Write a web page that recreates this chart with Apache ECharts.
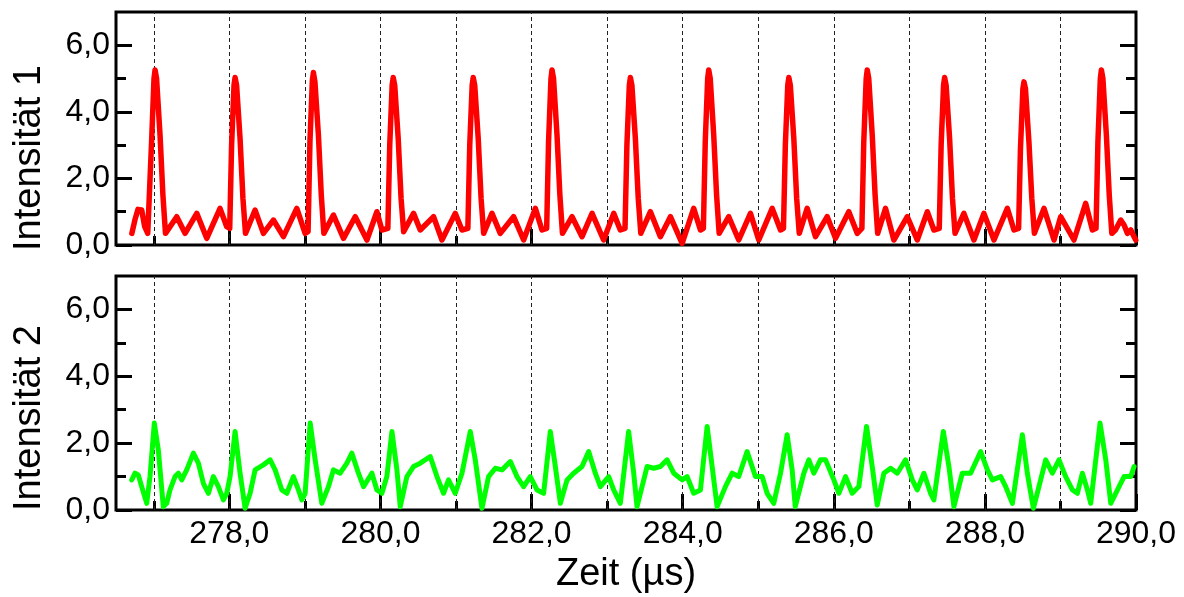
<!DOCTYPE html>
<html><head><meta charset="utf-8">
<script src="https://cdn.jsdelivr.net/npm/echarts@6/dist/echarts.min.js"></script>
<style>html,body{margin:0;padding:0;background:#fff}#c{width:1184px;height:597px}</style>
</head><body><div id="c"></div>
<script>
// ---- data (time in µs, intensity in a.u.) ----
const redTime = [
276.71,276.75,276.79,276.84,276.88,276.92,
276.946,276.971,277.003,277.017,277.037,277.083,277.121,277.155,
277.304,277.414,277.569,277.701,277.877,277.966,
278.005,278.030,278.062,278.076,278.096,278.142,278.180,278.214,
278.341,278.451,278.583,278.716,278.893,279.003,
279.042,279.067,279.099,279.113,279.133,279.179,279.217,279.251,
279.378,279.511,279.666,279.821,279.953,280.019,
280.098,280.123,280.155,280.169,280.189,280.235,280.273,280.307,
280.438,280.527,280.703,280.814,280.990,281.079,
281.157,281.182,281.214,281.228,281.248,281.294,281.332,281.366,
281.476,281.586,281.762,281.895,282.050,282.138,
282.200,282.225,282.257,282.271,282.291,282.337,282.375,282.409,
282.536,282.668,282.801,282.954,283.087,283.175,
283.237,283.262,283.294,283.308,283.328,283.374,283.412,283.446,
283.573,283.705,283.838,283.993,284.146,284.235,
284.274,284.299,284.331,284.345,284.365,284.411,284.449,284.483,
284.610,284.742,284.897,285.007,285.185,285.295,
285.334,285.359,285.391,285.405,285.425,285.471,285.509,285.543,
285.648,285.758,285.913,286.023,286.199,286.310,
286.372,286.397,286.429,286.443,286.463,286.509,286.547,286.581,
286.685,286.795,286.973,287.105,287.238,287.325,
287.396,287.421,287.453,287.467,287.487,287.533,287.571,287.605,
287.722,287.855,287.987,288.120,288.297,288.385,
288.446,288.471,288.503,288.517,288.537,288.583,288.621,288.655,
288.782,288.915,289.003,289.179,289.334,289.423,
289.471,289.496,289.528,289.542,289.562,289.608,289.646,289.680,
289.728,289.798,289.842,289.887,289.931,289.975,289.997
];
const redIntensity = [
0.35,0.75,1.07,1.05,0.55,0.35,
0.4,3.1,5.0,5.26,5.0,3.3,1.5,0.35,
0.85,0.35,0.95,0.2,1.1,0.55,
0.5,3.0,4.8,5.03,4.8,3.2,1.4,0.35,
1.05,0.35,0.75,0.25,1.1,0.35,
0.4,3.1,4.95,5.18,4.9,3.3,1.5,0.35,
0.9,0.2,0.85,0.15,1.0,0.45,
0.5,3.0,4.8,5.03,4.8,3.2,1.4,0.4,
0.95,0.45,0.85,0.15,0.95,0.45,
0.5,3.0,4.8,5.03,4.8,3.2,1.4,0.35,
0.95,0.35,0.85,0.15,1.1,0.45,
0.5,3.1,5.0,5.26,5.0,3.3,1.5,0.35,
0.85,0.25,0.95,0.15,0.95,0.45,
0.5,3.0,4.8,5.03,4.8,3.2,1.4,0.35,
1.0,0.25,0.85,0.05,1.1,0.45,
0.5,3.1,5.0,5.26,5.0,3.3,1.5,0.35,
0.85,0.15,0.95,0.15,1.1,0.45,
0.5,3.0,4.8,5.03,4.8,3.2,1.4,0.35,
1.1,0.25,0.85,0.2,1.0,0.35,
0.5,3.1,5.0,5.26,5.0,3.3,1.5,0.35,
1.1,0.15,0.85,0.15,1.0,0.45,
0.5,3.0,4.8,5.03,4.8,3.2,1.4,0.35,
0.95,0.15,0.95,0.15,1.1,0.45,
0.5,2.9,4.7,4.9,4.7,3.1,1.4,0.35,
1.1,0.15,0.85,0.15,1.25,0.45,
0.5,3.1,5.0,5.26,5.0,3.3,1.5,0.35,
0.45,0.75,0.6,0.35,0.45,0.25,0.15
];
const greenTime = [
276.708,276.752,276.795,276.840,276.907,276.950,277.007,277.060,277.126,277.171,
277.215,277.281,277.325,277.370,277.436,277.524,277.590,277.656,277.723,277.789,
277.855,277.921,277.966,278.010,278.076,278.142,278.209,278.275,278.341,278.451,
278.540,278.606,278.695,278.761,278.848,278.915,278.960,279.003,279.070,279.136,
279.224,279.312,279.378,279.467,279.556,279.622,279.709,279.776,279.887,279.953,
280.019,280.085,280.152,280.218,280.262,280.350,280.438,280.527,280.659,280.748,
280.835,280.901,280.990,281.079,281.189,281.255,281.344,281.431,281.520,281.609,
281.719,281.807,281.895,281.983,282.072,282.160,282.248,282.315,282.381,282.470,
282.557,282.668,282.756,282.844,282.911,283.021,283.087,283.175,283.285,283.352,
283.396,283.529,283.617,283.705,283.794,283.882,283.993,284.059,284.146,284.235,
284.324,284.390,284.456,284.566,284.655,284.742,284.853,284.963,285.052,285.118,
285.206,285.295,285.383,285.449,285.490,285.604,285.670,285.736,285.824,285.891,
286.001,286.067,286.156,286.244,286.332,286.434,286.509,286.575,286.663,286.752,
286.840,286.950,287.039,287.105,287.193,287.281,287.325,287.450,287.524,287.590,
287.701,287.811,287.944,288.033,288.099,288.209,288.275,288.364,288.496,288.562,
288.642,288.738,288.805,288.893,288.981,289.069,289.158,289.224,289.290,289.357,
289.401,289.524,289.600,289.666,289.776,289.842,289.931,289.975
];
const greenIntensity = [
0.9,1.1,1.05,0.7,0.2,1.0,2.6,1.8,0.1,0.2,
0.6,1.0,1.1,0.9,1.2,1.7,1.4,0.8,0.5,1.0,
0.7,0.3,0.5,1.0,2.35,1.1,0.05,0.5,1.2,1.35,
1.5,1.2,0.6,0.5,1.0,0.6,0.3,0.5,2.6,1.5,
0.2,0.7,1.2,1.1,1.4,1.7,1.1,0.7,1.1,0.6,
0.5,1.0,2.35,1.2,0.1,1.0,1.3,1.4,1.6,1.0,
0.5,0.9,0.5,1.1,2.35,1.5,0.05,1.0,1.25,1.2,
1.45,1.0,0.7,1.0,0.6,0.5,2.35,1.3,0.2,0.9,
1.1,1.3,1.75,1.1,0.7,1.0,0.6,0.2,2.35,1.1,
0.1,1.3,1.25,1.3,1.5,1.1,0.9,1.0,0.5,0.6,
2.5,1.3,0.1,0.7,1.1,1.0,1.75,1.0,1.0,0.5,
0.2,1.1,2.25,1.2,0.1,1.1,1.5,1.1,1.5,1.5,
0.9,0.5,1.0,0.5,0.7,2.5,1.3,0.15,1.1,1.25,
1.1,1.5,0.9,0.6,1.1,0.5,0.3,2.35,1.3,0.1,
1.1,1.1,1.75,1.2,0.9,1.0,0.7,0.2,2.25,1.1,
0.05,0.9,1.5,1.1,1.5,1.0,0.6,0.5,1.1,0.6,
0.2,2.6,1.5,0.2,0.7,1.0,1.0,1.3
];
const markerTimes = [277,278,279,280,281,282,283,284,285,286,287,288,289];
const xMajorTicks = [278,280,282,284,286,288,290];
const xMinorTicks = [277,279,281,283,285,287,289];
const yMajorTicks = [0,2,4,6];
const yMinorTicks = [1,3,5];

// ---- chart ----
const FONT = '"Liberation Sans", Arial, Helvetica, sans-serif';
const fmt = v => Number(v).toFixed(1).replace('.', ',');
const pairs = (xs, ys) => xs.map((x, i) => [x, ys[i]]);

function xAxis(grid, ticks, len, labels, extra) {
  return Object.assign({
    type: 'value', gridIndex: grid, min: 276.5, max: 290, position: 'bottom',
    axisLine: { show: false }, splitLine: { show: false },
    axisTick: { show: true, inside: true, length: len, customValues: ticks, lineStyle: { color: '#000', width: 3 } },
    axisLabel: { show: labels, customValues: xMajorTicks, formatter: fmt, fontSize: 32, color: '#000', fontFamily: FONT, margin: 8 }
  }, extra || {});
}
function yAxis(grid, pos, ticks, len, labels) {
  return {
    type: 'value', gridIndex: grid, min: 0, max: 7, position: pos,
    axisLine: { show: false }, splitLine: { show: false },
    axisTick: { show: true, inside: true, length: len, customValues: ticks, lineStyle: { color: '#000', width: 3 } },
    axisLabel: { show: labels, customValues: yMajorTicks, formatter: fmt, fontSize: 32, color: '#000', fontFamily: FONT, margin: 6 }
  };
}
function markers() {
  return {
    silent: true, z: 1, symbol: ['none', 'none'], label: { show: false },
    lineStyle: { type: [4, 3], color: '#222', width: 1 },
    emphasis: { disabled: true },
    data: markerTimes.map(t => ({ xAxis: t }))
  };
}

const chart = echarts.init(document.getElementById('c'), null, { renderer: 'canvas' });
chart.setOption({
  animation: false,
  backgroundColor: '#fff',
  grid: [
    { left: 116, top: 12, width: 1020, height: 233, show: true, borderColor: '#000', borderWidth: 3, backgroundColor: 'transparent', z: 0 },
    { left: 116, top: 276, width: 1020, height: 234, show: true, borderColor: '#000', borderWidth: 3, backgroundColor: 'transparent', z: 0 }
  ],
  xAxis: [
    xAxis(0, xMajorTicks, 16, false),
    xAxis(0, xMinorTicks, 9, false),
    xAxis(1, xMajorTicks, 16, true, { name: 'Zeit (µs)', nameLocation: 'middle', nameGap: 46, nameTextStyle: { fontSize: 38, color: '#000', fontFamily: FONT } }),
    xAxis(1, xMinorTicks, 9, false)
  ],
  yAxis: [
    yAxis(0, 'left', yMajorTicks, 16, true),
    yAxis(0, 'left', yMinorTicks, 10, false),
    yAxis(0, 'right', yMajorTicks, 16, false),
    yAxis(0, 'right', yMinorTicks, 10, false),
    yAxis(1, 'left', yMajorTicks, 16, true),
    yAxis(1, 'left', yMinorTicks, 10, false),
    yAxis(1, 'right', yMajorTicks, 16, false),
    yAxis(1, 'right', yMinorTicks, 10, false)
  ],
  graphic: [
    { type: 'text', x: 30, y: 158, rotation: Math.PI / 2, style: { text: 'Intensität 1', font: '38px ' + FONT, fill: '#000', textAlign: 'center', textVerticalAlign: 'middle' } },
    { type: 'text', x: 30, y: 418, rotation: Math.PI / 2, style: { text: 'Intensität 2', font: '38px ' + FONT, fill: '#000', textAlign: 'center', textVerticalAlign: 'middle' } }
  ],
  series: [
    { type: 'line', name: 'Intensität 1', xAxisIndex: 0, yAxisIndex: 0, z: 3, data: pairs(redTime, redIntensity),
      showSymbol: false, symbol: 'none', lineStyle: { color: '#ff0000', width: 5.5, join: 'round', cap: 'round' }, markLine: markers() },
    { type: 'line', name: 'Intensität 2', xAxisIndex: 2, yAxisIndex: 4, z: 3, data: pairs(greenTime, greenIntensity),
      showSymbol: false, symbol: 'none', lineStyle: { color: '#00ff00', width: 5, join: 'round', cap: 'round' }, markLine: markers() }
  ]
});
</script>
</body></html>
